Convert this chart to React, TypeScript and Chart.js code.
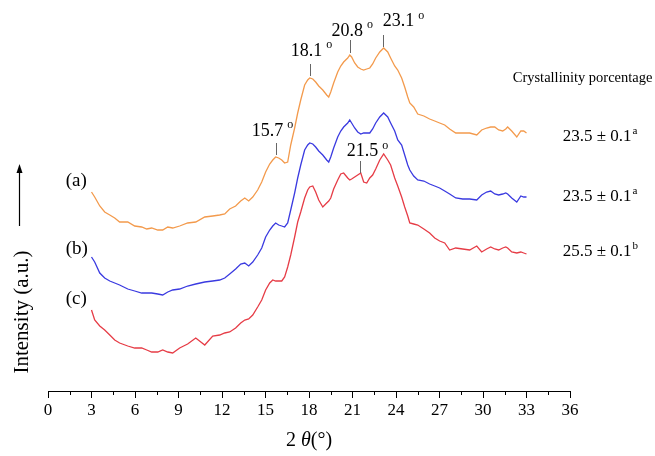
import React, { useEffect, useRef } from "react";
import { Chart, registerables } from "chart.js";

Chart.register(...registerables);

// 2θ scan positions (degrees)
const twoTheta = [
  3.0, 3.22, 3.57, 3.91, 4.26, 4.6, 4.94, 5.5, 5.98, 6.46, 6.81, 7.15, 7.57, 7.91, 8.26, 8.6, 9.08, 9.63, 10.19, 10.81,
  11.36, 11.84, 12.19, 12.53, 12.94, 13.29, 13.57, 13.84, 14.12, 14.46, 14.74, 15.01, 15.29, 15.5, 15.7, 15.91, 16.12, 16.32, 16.53, 16.74,
  17.01, 17.22, 17.43, 17.7, 17.91, 18.05, 18.26, 18.46, 18.67, 18.95, 19.22, 19.36, 19.5, 19.7, 19.98, 20.19, 20.39, 20.67, 20.81, 20.94,
  21.15, 21.36, 21.57, 21.77, 21.98, 22.19, 22.39, 22.6, 22.88, 23.15, 23.43, 23.63, 23.91, 24.12, 24.39, 24.6, 24.81, 24.95, 25.22, 25.5,
  25.92, 26.32, 26.67, 27.01, 27.36, 27.7, 28.12, 28.6, 29.08, 29.57, 29.91, 30.25, 30.53, 30.81, 31.08, 31.36, 31.57, 31.7, 31.98, 32.33,
  32.61, 32.81, 33.0,
];

// Intensity (a.u., offset-stacked)
const intensityA = [
  199, 194, 185, 179, 176, 173, 169, 169, 165, 164, 162, 163, 161, 161, 164, 163, 165, 168, 169, 174,
  175, 176, 177, 182, 185, 190, 193, 190, 194, 201, 209, 219, 227, 231, 234, 233, 231, 228, 229, 246,
  263, 278, 291, 306, 311, 313, 312, 309, 305, 301, 296, 294, 299, 308, 319, 325, 329, 333, 336, 334,
  328, 324, 322, 321, 322, 323, 327, 333, 339, 343, 339, 333, 325, 321, 313, 304, 294, 288, 284, 277,
  275, 272, 270, 268, 266, 262, 258, 258, 258, 256, 261, 263, 264, 264, 261, 260, 262, 264, 260, 254,
  260, 260, 258,
];
const intensityB = [
  134, 129, 118, 113, 110, 108, 106, 102, 100, 98, 98, 98, 97, 96, 99, 101, 102, 105, 107, 109,
  110, 111, 113, 117, 122, 127, 128, 125, 129, 136, 143, 154, 161, 165, 168, 166, 165, 164, 168, 181,
  198, 213, 226, 241, 246, 248, 247, 244, 240, 236, 231, 229, 234, 243, 254, 260, 264, 268, 271, 268,
  263, 259, 257, 258, 258, 258, 262, 268, 274, 278, 274, 268, 260, 251, 246, 236, 226, 221, 215, 211,
  210, 207, 205, 203, 200, 197, 193, 192, 192, 191, 196, 199, 200, 197, 196, 197, 198, 197, 193, 189,
  195, 194, 194,
];
const intensityC = [
  81, 71, 65, 61, 56, 51, 48, 45, 43, 43, 41, 39, 39, 41, 39, 38, 43, 47, 53, 46,
  55, 56, 58, 59, 63, 68, 71, 72, 76, 84, 91, 101, 108, 111, 110, 110, 110, 114, 124, 136,
  154, 169, 179, 193, 201, 204, 205, 199, 191, 184, 188, 190, 193, 202, 211, 217, 218, 213, 211, 212,
  214, 216, 218, 209, 208, 213, 216, 222, 231, 237, 231, 226, 213, 205, 194, 184, 175, 168, 167, 166,
  162, 158, 153, 150, 148, 141, 143, 142, 141, 145, 139, 142, 144, 142, 141, 143, 144, 143, 139, 138,
  139, 138, 137,
];

const seriesNames = ["(a)", "(b)", "(c)"];
const crystallinityValues = ["23.5 ± 0.1", "23.5 ± 0.1", "25.5 ± 0.1"];
const crystallinityGroups = ["a", "a", "b"];

// Peak annotations
const peakX = [15.7, 18.1, 20.8, 23.1, 21.5];
const peakLabels = ["15.7", "18.1", "20.8", "23.1", "21.5"];
const peakLineLow = [236, 315, 338, 344, 218];
const peakLineHigh = [248, 327, 351, 356, 230];

// Layout of overlay texts (in axis units)
const LAYOUT = {
  peakTextX: [14.05, 16.74, 19.56, 23.08, 20.6],
  peakTextY: [260, 340, 360, 369.5, 239.5],
  seriesTextX: 1.22,
  seriesTextY: [209.5, 141.5, 92],
  headerX: 32.05,
  headerY: 313,
  valueX: 35.5,
  valueY: [254, 194, 139],
};

const COLORS = ["#F39A4C", "#3A3AE0", "#E63C46"];
const SERIF = "'Liberation Serif', 'Times New Roman', serif";

const overlayPlugin = {
  id: "overlay",
  afterDraw(chart: any) {
    const { ctx, chartArea } = chart;
    const x = chart.scales.x;
    const y = chart.scales.y;
    ctx.save();

    // minor ticks
    ctx.strokeStyle = "#000";
    ctx.lineWidth = 1;
    for (let v = 1.5; v < 36; v += 3) {
      const px = Math.round(x.getPixelForValue(v)) + 0.5;
      ctx.beginPath();
      ctx.moveTo(px, chartArea.bottom);
      ctx.lineTo(px, chartArea.bottom + 4);
      ctx.stroke();
    }

    // peak lines and labels
    ctx.strokeStyle = "#666";
    for (let i = 0; i < peakX.length; i++) {
      const px = Math.round(x.getPixelForValue(peakX[i])) + 0.5;
      ctx.beginPath();
      ctx.moveTo(px, y.getPixelForValue(peakLineLow[i]));
      ctx.lineTo(px, y.getPixelForValue(peakLineHigh[i]));
      ctx.stroke();
      ctx.fillStyle = "#000";
      ctx.font = `18px ${SERIF}`;
      ctx.textBaseline = "middle";
      ctx.textAlign = "left";
      const tx = x.getPixelForValue(LAYOUT.peakTextX[i]);
      const ty = y.getPixelForValue(LAYOUT.peakTextY[i]);
      ctx.fillText(peakLabels[i], tx, ty);
      const w = ctx.measureText(peakLabels[i]).width;
      ctx.font = `12px ${SERIF}`;
      ctx.fillText("o", tx + w + 4, ty - 6);
    }

    // series labels
    ctx.font = `19px ${SERIF}`;
    ctx.fillStyle = "#000";
    ctx.textBaseline = "middle";
    for (let i = 0; i < seriesNames.length; i++) {
      ctx.fillText(seriesNames[i], x.getPixelForValue(LAYOUT.seriesTextX), y.getPixelForValue(LAYOUT.seriesTextY[i]));
    }

    // crystallinity header and values
    ctx.font = `14.5px ${SERIF}`;
    ctx.fillText("Crystallinity porcentage", x.getPixelForValue(LAYOUT.headerX), y.getPixelForValue(LAYOUT.headerY));
    for (let i = 0; i < crystallinityValues.length; i++) {
      const tx = x.getPixelForValue(LAYOUT.valueX);
      const ty = y.getPixelForValue(LAYOUT.valueY[i]);
      ctx.font = `17px ${SERIF}`;
      ctx.fillText(crystallinityValues[i], tx, ty);
      const w = ctx.measureText(crystallinityValues[i]).width;
      ctx.font = `11px ${SERIF}`;
      ctx.fillText(crystallinityGroups[i], tx + w + 1, ty - 6);
    }

    // y-axis title with arrow
    ctx.save();
    ctx.translate(22, 312);
    ctx.rotate(-Math.PI / 2);
    ctx.font = `21px ${SERIF}`;
    ctx.textAlign = "center";
    ctx.textBaseline = "middle";
    ctx.fillText("Intensity (a.u.)", 0, 0);
    ctx.restore();
    ctx.strokeStyle = "#000";
    ctx.lineWidth = 1.2;
    ctx.beginPath();
    ctx.moveTo(19.5, 226);
    ctx.lineTo(19.5, 170);
    ctx.stroke();
    ctx.fillStyle = "#000";
    ctx.beginPath();
    ctx.moveTo(19.5, 164);
    ctx.lineTo(16.5, 173);
    ctx.lineTo(22.5, 173);
    ctx.closePath();
    ctx.fill();

    // x-axis title: 2 θ(°)
    const cx = (chartArea.left + chartArea.right) / 2;
    const cy = 441;
    const parts = [
      { t: "2 ", f: `20px ${SERIF}` },
      { t: "θ", f: `italic 20px ${SERIF}` },
      { t: "(°)", f: `20px ${SERIF}` },
    ];
    let total = 0;
    for (const p of parts) { ctx.font = p.f; total += ctx.measureText(p.t).width; }
    let sx = cx - total / 2;
    ctx.textAlign = "left";
    ctx.textBaseline = "middle";
    for (const p of parts) {
      ctx.font = p.f;
      ctx.fillText(p.t, sx, cy);
      sx += ctx.measureText(p.t).width;
    }
    ctx.restore();
  },
};

export default function App() {
  const ref = useRef<HTMLCanvasElement | null>(null);
  useEffect(() => {
    if (!ref.current) return;
    const series = [intensityA, intensityB, intensityC];
    const chart = new Chart(ref.current, {
      type: "line",
      data: {
        datasets: series.map((s, i) => ({
          label: seriesNames[i],
          data: twoTheta.map((t, j) => ({ x: t, y: s[j] })),
          borderColor: COLORS[i],
          borderWidth: 1.3,
          pointRadius: 0,
          tension: 0,
          fill: false,
        })),
      },
      options: {
        responsive: false,
        animation: false,
        devicePixelRatio: 1,
        layout: { padding: { left: 48, right: 85, top: 0, bottom: 0 } },
        plugins: { legend: { display: false }, tooltip: { enabled: false }, title: { display: false } },
        scales: {
          x: {
            type: "linear",
            min: 0,
            max: 36,
            afterFit: (scale: any) => { scale.height = 65; },
            ticks: {
              stepSize: 3,
              autoSkip: false,
              maxRotation: 0,
              color: "#000",
              padding: 2,
              font: { family: SERIF, size: 17 },
            },
            grid: { drawOnChartArea: false, drawTicks: true, tickLength: 7, color: "#000", tickColor: "#000" },
            border: { display: true, color: "#000", width: 1 },
          },
          y: { display: false, min: 0, max: 391 },
        },
      },
      plugins: [overlayPlugin],
    });
    return () => chart.destroy();
  }, []);
  return (
    <div style={{ position: "fixed", left: 0, top: 0, width: 655, height: 456, background: "#fff" }}>
      <canvas ref={ref} width={655} height={456} />
    </div>
  );
}
